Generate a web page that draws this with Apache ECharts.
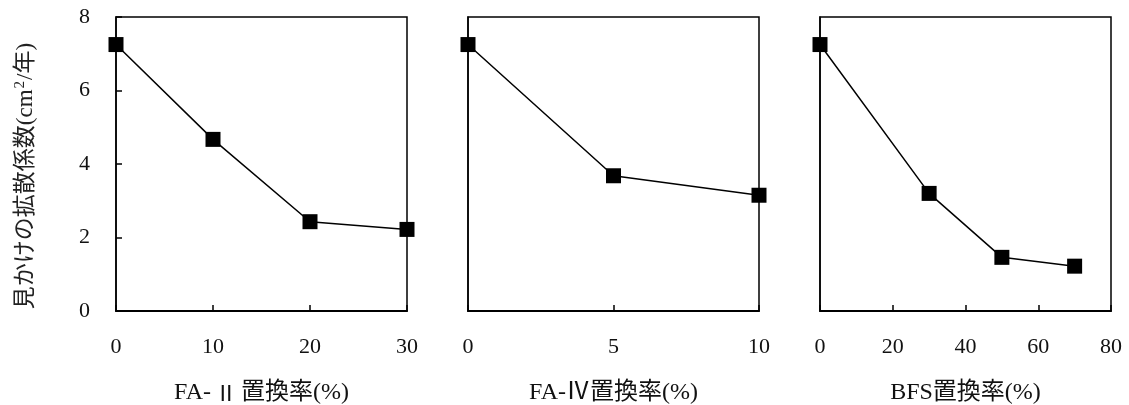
<!DOCTYPE html>
<html><head><meta charset="utf-8">
<script src="https://cdn.jsdelivr.net/npm/echarts@6/dist/echarts.min.js"></script>
<style>html,body{margin:0;padding:0;background:#fff}#c{width:1129px;height:405px}</style>
</head><body><div id="c"></div>
<script>
// Panel data
const faIIx = [0, 10, 20, 30];
const faIIy = [7.25, 4.67, 2.43, 2.22];
const faIVx = [0, 5, 10];
const faIVy = [7.25, 3.68, 3.15];
const bfsX = [0, 30, 50, 70];
const bfsY = [7.25, 3.2, 1.46, 1.22];
const xNames = ['FA-{cjk|Ⅱ}置換率(%)', 'FA-Ⅳ置換率(%)', 'BFS置換率(%)'];
const xMax = [30, 10, 80];
const xInterval = [10, 5, 20];
const yNameParts = ['見かけの拡散係数(cm', '2', '/年)'];
const yMax = 8, yInterval = 2;

const serif = "'Liberation Serif', 'Noto Sans CJK JP', serif";
const lefts = [116, 468, 820];
const W = 291, TOP = 17, H = 294;

const chart = echarts.init(document.getElementById('c'), null, {renderer: 'canvas'});
const grids = lefts.map(l => ({left: l, top: TOP, width: W, height: H, show: true, borderColor: '#000', borderWidth: 1.5, backgroundColor: 'transparent', containLabel: false, outerBoundsMode: 'none'}));
const xAxes = [0,1,2].map(i => ({
  type: 'value', gridIndex: i, min: 0, max: xMax[i], interval: xInterval[i],
  name: xNames[i], nameLocation: 'middle', nameGap: 70,
  nameTextStyle: {fontFamily: serif, fontSize: 24, color: '#111',
    rich: {cjk: {fontFamily: "'Noto Sans CJK JP'", fontSize: 22, color: '#111', padding: [0, 4, 0, 4]}}},
  axisLine: {show: true, lineStyle: {color: '#000', width: 2}},
  axisTick: {show: true, inside: true, length: 6, lineStyle: {color: '#000', width: 1.5}},
  axisLabel: {fontFamily: serif, fontSize: 22, color: '#111', margin: 25},
  splitLine: {show: false}
}));
const yName = '{a|' + yNameParts[0] + '}{s|' + yNameParts[1] + '}{a|' + yNameParts[2] + '}';
const yAxes = [0,1,2].map(i => ({
  type: 'value', gridIndex: i, min: 0, max: yMax, interval: yInterval,
  name: i === 0 ? yName : '', nameLocation: 'middle', nameGap: 77, nameRotate: 90,
  nameTextStyle: {padding: [0, 24, 0, 0],
    rich: {
      a: {fontFamily: "'Liberation Serif', 'Noto Sans CJK JP', sans-serif", fontSize: 23, color: '#222', lineHeight: 26},
      s: {fontFamily: "'Liberation Serif', serif", fontSize: 15, color: '#222', verticalAlign: 'top', lineHeight: 14, padding: [0, 1, 0, 1]}
    }},
  axisLine: {show: true, lineStyle: {color: '#000', width: 1.5}},
  axisTick: {show: i === 0, inside: true, length: 6, lineStyle: {color: '#000', width: 1.5}},
  axisLabel: {show: i === 0, fontFamily: serif, fontSize: 22, color: '#111', margin: 26},
  splitLine: {show: false}
}));
const mk = (xs, ys) => xs.map((x, k) => [x, ys[k]]);
const datasets = [mk(faIIx, faIIy), mk(faIVx, faIVy), mk(bfsX, bfsY)];
const series = datasets.map((d, i) => ({
  type: 'line', xAxisIndex: i, yAxisIndex: i, data: d,
  symbol: 'rect', symbolSize: 15, showAllSymbol: true,
  itemStyle: {color: '#000'}, lineStyle: {color: '#000', width: 1.5},
  clip: false, animation: false, z: 5
}));
chart.setOption({animation: false, grid: grids, xAxis: xAxes, yAxis: yAxes, series});
</script></body></html>
